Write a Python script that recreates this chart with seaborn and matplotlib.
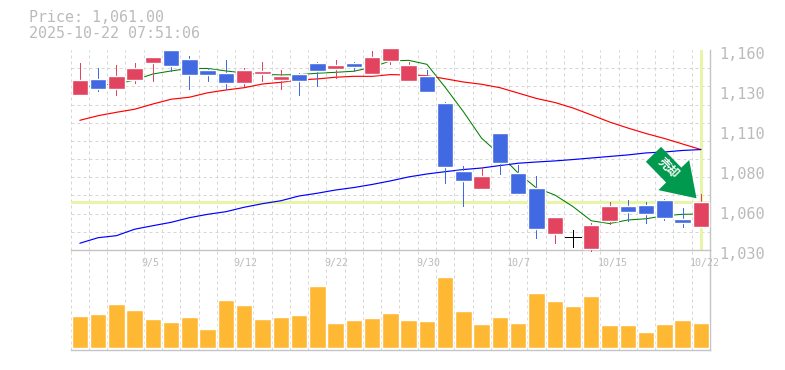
import matplotlib
matplotlib.use('Agg')
import matplotlib.pyplot as plt
import matplotlib.transforms as mtrans
import pandas as pd
import seaborn as sns

# daily candles
opens = [1130.75, 1141.15, 1134.65, 1140.5, 1151.55, 1160, 1154.15, 1147, 1145.05, 1138.55,
         1144.2, 1140.5, 1144.4, 1151.55, 1147.65, 1151.55, 1144.4, 1152.85, 1139.85, 1143.1,
         1125.55, 1081.35, 1069.65, 1106.05, 1080.05, 1070.3, 1040.4, 1038.45, 1030.65, 1048.85,
         1058.6, 1059.25, 1062.5, 1050.15, 1044.95]
closes = [1140.5, 1134.65, 1143.1, 1148.3, 1155.45, 1149.6, 1143.75, 1143.75, 1138.55, 1147,
          1146.35, 1143.1, 1139.85, 1146.35, 1150.25, 1148.95, 1155.45, 1161.3, 1150.25, 1132.7,
          1084, 1074.85, 1078.1, 1086.55, 1066.4, 1043.65, 1051.45, 1038.45, 1046.25, 1058.6,
          1054.7, 1053.4, 1050.8, 1047.55, 1061.2]
highs = [1151.55, 1148.3, 1150.25, 1151.55, 1155.45, 1160, 1156.1, 1148.3, 1153.5, 1148.3,
         1152.2, 1147, 1145.05, 1152.2, 1153.5, 1152.2, 1159.35, 1161.3, 1152.2, 1147,
         1126.2, 1084.6, 1084.05, 1106.05, 1085.25, 1078.1, 1051.45, 1043, 1047.55, 1061.2,
         1062.5, 1061.2, 1063.15, 1057.3, 1066.4]
lows = [1130.75, 1133.5, 1130.75, 1138.75, 1140, 1146.35, 1134.65, 1139.85, 1134.65, 1136.6,
        1139.85, 1134.65, 1130.75, 1136.6, 1141.8, 1146.35, 1144.4, 1150.9, 1139.85, 1132.7,
        1073.55, 1058.6, 1069.65, 1079.4, 1066.4, 1037.8, 1034.55, 1031.95, 1029.35, 1046.9,
        1048.85, 1047.55, 1049.5, 1044.95, 1044.95]
ma_short = [1135.3, 1137.3, 1137.9, 1140.5, 1144.4, 1146.4, 1148, 1148, 1146.4, 1145,
            1144.2, 1143.8, 1144, 1144.9, 1145.5, 1146.2, 1148.8, 1152.9, 1153.3, 1150.7,
            1135.8, 1119.9, 1102.6, 1092, 1080, 1070.3, 1065.8, 1058.2, 1049, 1047.2,
            1049.5, 1050.3, 1052.3, 1053.2, 1053.4]
ma_mid = [1114.3, 1117.3, 1119.5, 1121.5, 1124.9, 1128, 1129.3, 1132.2, 1134, 1135.5,
          1137.9, 1139, 1140.5, 1141.2, 1142.3, 1142.9, 1142.9, 1144, 1143.8, 1143.3,
          1141.3, 1139.2, 1137.7, 1135.5, 1132, 1128.5, 1125.9, 1122.3, 1117.8, 1113.2,
          1109.3, 1105.7, 1102.5, 1098.9, 1095.3]
ma_long = [1034.4, 1038, 1039.3, 1043.5, 1045.8, 1048, 1051, 1053.2, 1054.9, 1057.8,
           1060.1, 1062, 1065.1, 1066.9, 1069, 1070.6, 1072.6, 1074.9, 1077.5, 1079.4,
           1080.9, 1082.3, 1083.3, 1084.9, 1086.4, 1087.2, 1087.9, 1088.8, 1089.8, 1090.8,
           1091.8, 1093.1, 1093.7, 1094.7, 1095.3]
volumes = [32, 34, 44, 38, 29, 26, 31, 19, 48, 43, 29, 31, 33, 62, 25, 28, 30, 35,
           28, 27, 71, 37, 24, 31, 25, 55, 47, 42, 52, 23, 23, 16, 24, 28, 25]
last_price = 1061
price_ticks = [1160, 1134, 1108, 1082, 1056, 1030]
price_labels = ['1,160', '1,130', '1,110', '1,080', '1,060', '1,030']
date_ticks = [4, 9, 14, 19, 24, 29, 34]
date_labels = ['9/5', '9/12', '9/22', '9/30', '10/7', '10/15', '10/22']

RED = '#e2435f'
BLUE = '#4169e1'
GRID = '#d6d6d6'
TEXT = '#bbbbbb'
YELLOW = '#e6f5a8'
MONO = 'DejaVu Sans Mono'
PX = 0.72  # one pixel in points

sns.set_theme(style='white')
plt.rcParams['font.family'] = [MONO, 'Noto Sans CJK JP']

df = pd.DataFrame({'day': range(len(opens)), 'open': opens, 'close': closes, 'high': highs, 'low': lows,
                   'short': ma_short, 'mid': ma_mid, 'long': ma_long, 'volume': volumes})
df['bottom'] = df[['open', 'close']].min(axis=1)
df['height'] = (df['close'] - df['open']).abs()
df['color'] = [RED if c > o else BLUE for o, c in zip(df['open'], df['close'])]

W, H = 785, 370
L, R, TOP, MID, BOT = 70.7, 710, 50, 250, 350
fig = plt.figure(figsize=(W / 100, H / 100), dpi=100)
ax = fig.add_axes([L / W, 1 - MID / H, (R - L) / W, (MID - TOP) / H])
vax = fig.add_axes([L / W, 1 - BOT / H, (R - L) / W, (BOT - MID) / H])

for a in (ax, vax):
    a.set_xlim(-0.5, len(df) - 0.5)
    a.set_xticks([i - 0.5 for i in range(len(df) + 1)], minor=True)
    a.grid(True, which='minor', axis='x', color=GRID, linestyle=(0, (3, 3)), linewidth=PX)
    a.tick_params(which='both', length=0)
    a.set_axisbelow(True)
    a.patch.set_alpha(0)
    for side in a.spines:
        a.spines[side].set_color('#c4c4c4')
        a.spines[side].set_linewidth(1)
    a.spines['left'].set_visible(False)
    a.spines['top'].set_visible(False)

# price panel
ax.set_ylim(1030, 1160)
ax.set_yticks([1030 + 130 * i / 11 for i in range(12)], minor=True)
ax.grid(True, which='minor', axis='y', color=GRID, linestyle=(0, (3, 3)), linewidth=PX)
ax.axhline(last_price, color=YELLOW, linewidth=2.2, zorder=1.5)
ax.axvline(len(df) - 1, color=YELLOW, linewidth=2.2, zorder=1.5)

sns.lineplot(data=df, x='day', y='short', color='#008000', linewidth=0.75, ax=ax, zorder=2)
sns.lineplot(data=df, x='day', y='mid', color='#ff0000', linewidth=0.85, ax=ax, zorder=2)
sns.lineplot(data=df, x='day', y='long', color='#0000ff', linewidth=0.85, ax=ax, zorder=2)
ax.set_xlabel('')
ax.set_ylabel('')

for row in df.itertuples():
    doji = row.height == 0
    ax.vlines(row.day, row.low, row.high, color='black' if doji else row.color, linewidth=PX,
              antialiased=False, zorder=3, clip_on=False)
    if doji:
        ax.hlines(row.close, row.day - 0.44, row.day + 0.44, color='black', linewidth=PX,
                  antialiased=False, zorder=3)
    else:
        ax.bar(row.day, row.height, bottom=row.bottom, width=0.9, color=row.color, zorder=3, clip_on=False)

ax.yaxis.tick_right()
ax.set_yticks(price_ticks, price_labels, fontsize=11, color=TEXT, family=MONO)
ax.tick_params(axis='y', which='major', pad=6.5)
ax.set_xticks(date_ticks, date_labels, fontsize=7.2, color=TEXT, family=MONO)
ax.tick_params(axis='x', which='major', pad=5.5)
y_nudge = mtrans.ScaledTranslation(0, -3 / 100, fig.dpi_scale_trans)
for lab in ax.get_yticklabels():
    lab.set_transform(lab.get_transform() + y_nudge)
for lab, dx in zip(ax.get_xticklabels(), [-2.5, 1, 1, 1, 1, 3, 4]):
    lab.set_transform(lab.get_transform() + mtrans.ScaledTranslation(dx / 100, 0, fig.dpi_scale_trans))

# volume panel
sns.barplot(data=df, x='day', y='volume', color='#ffb833', saturation=1, width=0.9, native_scale=True, ax=vax, zorder=3)
vax.set_xlim(-0.5, len(df) - 0.5)
vax.set_ylim(-2, 98)
vax.set_xticks([])
vax.set_yticks([])
vax.set_xlabel('')
vax.set_ylabel('')

# signal arrow pointing at the last candle
ax.annotate('', xy=(33.76, 1063.6), xytext=(-43, 44), textcoords='offset pixels',
            arrowprops=dict(width=15.3, headwidth=31, headlength=23.4, shrink=0, fc='#00994d', ec='none'),
            annotation_clip=False, zorder=5)
ax.annotate('売却', xy=(33.76, 1063.6), xytext=(-28, 30), textcoords='offset pixels', color='white',
            fontsize=8.5, fontweight='bold', rotation=-45, ha='center', va='center', rotation_mode='anchor',
            family='Noto Sans CJK JP', zorder=6)

fig.text(29 / W, 1 - 18 / H, 'Price: 1,061.00', color=TEXT, fontsize=10.8, family=MONO, va='center')
fig.text(29 / W, 1 - 33 / H, '2025-10-22 07:51:06', color=TEXT, fontsize=10.8, family=MONO, va='center')

fig.savefig('out.png', dpi=100)
